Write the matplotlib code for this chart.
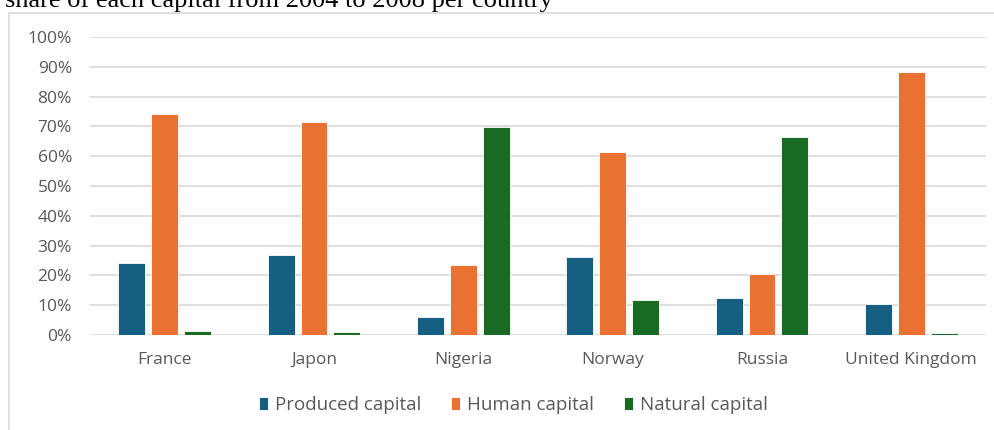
import matplotlib.pyplot as plt
import numpy as np
from matplotlib.patches import Rectangle
from matplotlib.ticker import PercentFormatter

# data (share of total wealth, %)
countries = ["France", "Japon", "Nigeria", "Norway", "Russia", "United Kingdom"]
produced = [24.3, 26.8, 6.1, 26.2, 12.5, 10.4]
human = [74.3, 71.6, 23.6, 61.5, 20.4, 88.4]
natural = [1.2, 1.1, 69.9, 11.8, 66.6, 0.8]
series_names = ["Produced capital", "Human capital", "Natural capital"]
colors = ["#156082", "#E97132", "#196B24"]

plt.rcParams['font.family'] = ['Open Sans', 'DejaVu Sans']
txt_col = "#595959"
grid_col = "#d9d9d9"

fig = plt.figure(figsize=(9.95, 4.3), dpi=100)
ax = fig.add_axes([90 / 995, 1 - 335 / 430, 896 / 995, 298 / 430])

# chart frame like the office chart area
fig.patches.append(Rectangle((9 / 995, -0.01), 1.0, 1 - 12.5 / 430 + 0.01,
                             transform=fig.transFigure, fill=False,
                             edgecolor=grid_col, linewidth=1.2))

x = np.arange(len(countries))
w = 0.18
step = 0.22
for k, vals in enumerate([produced, human, natural]):
    ax.bar(x + (k - 1) * step, vals, width=w, color=colors[k],
           edgecolor="white", linewidth=0.6, label=series_names[k], zorder=3)

ax.set_xlim(-0.5, len(countries) - 0.5)
ax.set_ylim(0, 100)
ax.set_yticks(range(0, 101, 10))
ax.yaxis.set_major_formatter(PercentFormatter(decimals=0))
ax.set_xticks(x)
ax.set_xticklabels(countries)
ax.grid(axis='y', color=grid_col, linewidth=1.2, zorder=0)
ax.tick_params(length=0, labelsize=12.5, labelcolor=txt_col)
ax.tick_params(axis='y', pad=13)
ax.tick_params(axis='x', pad=12)
for s in ax.spines.values():
    s.set_visible(False)

fig.text(5 / 995, 1 - 6.5 / 430, "share of each capital from 2004 to 2008 per country",
         family="Liberation Serif", fontsize=19, va="baseline", ha="left", color="black")

leg = ax.legend(loc="center", bbox_to_anchor=(513 / 995, 1 - 405 / 430),
                bbox_transform=fig.transFigure, ncol=3, frameon=False,
                fontsize=13.5, handlelength=0.5, handleheight=0.75,
                handletextpad=0.35, columnspacing=1.6)
for t in leg.get_texts():
    t.set_color(txt_col)

fig.savefig("out.png", dpi=100)
